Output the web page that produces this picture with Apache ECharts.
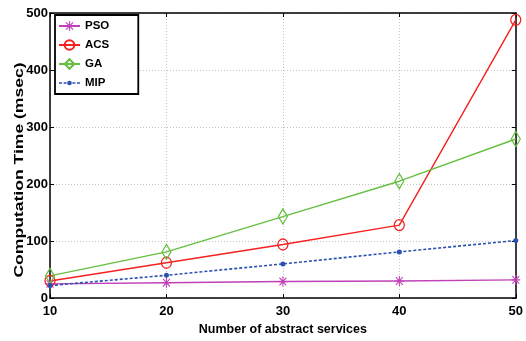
<!DOCTYPE html>
<html>
<head>
<meta charset="utf-8">
<script src="https://cdn.jsdelivr.net/npm/echarts@6/dist/echarts.min.js"></script>
<style>
  html, body { margin: 0; padding: 0; background: #fff; }
  #chart { width: 526px; height: 341px; }
</style>
</head>
<body>
<div id="chart"></div>
<script>
// Number of abstract services (x) and computation time in msec per algorithm
const services = [10, 20, 30, 40, 50];
const psoTime = [25, 27, 29, 30, 32];
const acsTime = [30, 62, 94, 128, 488];
const gaTime  = [39, 81, 143, 205, 279];
const mipTime = [22, 40, 60, 81, 101];

const FONT = '"Liberation Sans", Arial, Helvetica, sans-serif';
const pairs = ys => services.map((x, i) => [x, ys[i]]);

// eight-spoke asterisk built from four bars of the same winding
const asterisk = 'path://M4.4 0L5.6 0L5.6 10L4.4 10Z M0 4.4L10 4.4L10 5.6L0 5.6Z ' +
  'M0.8 1.6L1.6 0.8L9.2 8.4L8.4 9.2Z M8.4 0.8L9.2 1.6L1.6 9.2L0.8 8.4Z';

// legend glyph for the dashed MIP line: dashes plus a small dot,
// with two specks at the corners so the icon box is not stretched
const dashDotIcon = 'path://M0 0L0.01 0L0 0.01Z M21 12L20.99 12L21 11.99Z ' +
  'M0 5.3L3 5.3L3 6.7L0 6.7Z M4.6 5.3L7.6 5.3L7.6 6.7L4.6 6.7Z ' +
  'M13.4 5.3L16.4 5.3L16.4 6.7L13.4 6.7Z M18 5.3L21 5.3L21 6.7L18 6.7Z ' +
  'M8.2 6A2.3 2.3 0 1 1 12.8 6A2.3 2.3 0 1 1 8.2 6Z';

const C = { pso: '#c040b8', acs: '#f52020', ga: '#66bf40', mip: '#2a50b0' };

const chart = echarts.init(document.getElementById('chart'), null, { renderer: 'canvas' });

const boxAxis = {
  axisLine: { show: true, onZero: false, lineStyle: { color: '#000', width: 1.5 } },
  axisTick: { show: true, inside: true, length: 4, lineStyle: { color: '#000', width: 1 } },
  axisLabel: { show: false },
  splitLine: { show: false }
};

chart.setOption({
  animation: false,
  backgroundColor: '#fff',
  grid: { left: 50, right: 8, top: 13, bottom: 33, containLabel: false },
  xAxis: [
    {
      type: 'value', min: 10, max: 50, interval: 10, position: 'bottom',
      name: 'Number of abstract services', nameLocation: 'middle', nameGap: 19,
      nameTextStyle: { color: '#000', fontFamily: FONT, fontWeight: 'bold', fontSize: 12.5 },
      axisLine: { show: true, onZero: false, lineStyle: { color: '#000', width: 1.5 } },
      axisTick: { show: true, inside: true, length: 4, lineStyle: { color: '#000', width: 1 } },
      axisLabel: { color: '#000', fontFamily: FONT, fontWeight: 'bold', fontSize: 13, margin: 7 },
      splitLine: { show: true, lineStyle: { color: '#c4c4c4', type: [1, 2], width: 1 } }
    },
    Object.assign({ type: 'value', min: 10, max: 50, interval: 10, position: 'top' }, boxAxis)
  ],
  yAxis: [
    {
      type: 'value', min: 0, max: 500, interval: 100, position: 'left',
      axisLine: { show: true, onZero: false, lineStyle: { color: '#000', width: 1.5 } },
      axisTick: { show: true, inside: true, length: 4, lineStyle: { color: '#000', width: 1 } },
      axisLabel: { color: '#000', fontFamily: FONT, fontWeight: 'bold', fontSize: 13, margin: 2 },
      splitLine: { show: true, lineStyle: { color: '#c4c4c4', type: [1, 2], width: 1 } }
    },
    Object.assign({ type: 'value', min: 0, max: 500, interval: 100, position: 'right' }, boxAxis)
  ],
  graphic: [{
    type: 'text', x: 19, y: 170, rotation: Math.PI / 2, scaleX: 1.35,
    style: {
      text: 'Computation Time (msec)', fill: '#000',
      fontFamily: FONT, fontWeight: 'bold', fontSize: 13,
      align: 'center', verticalAlign: 'middle'
    }
  }],
  legend: {
    orient: 'vertical', left: 55, top: 15,
    padding: [5, 29, 5, 3], itemGap: 7, itemWidth: 21, itemHeight: 12,
    backgroundColor: '#fff', borderColor: '#000', borderWidth: 1.8, borderRadius: 0,
    textStyle: { color: '#000', fontFamily: FONT, fontWeight: 'bold', fontSize: 11.5 },
    data: ['PSO', 'ACS', 'GA', { name: 'MIP', icon: dashDotIcon }]
  },
  series: [
    {
      name: 'PSO', type: 'line', data: pairs(psoTime),
      symbol: asterisk, symbolSize: [9, 10],
      itemStyle: { color: C.pso, borderWidth: 0 },
      lineStyle: { color: C.pso, width: 1.4 }
    },
    {
      name: 'ACS', type: 'line', data: pairs(acsTime),
      symbol: 'circle', symbolSize: [10, 11],
      itemStyle: { color: 'transparent', borderColor: C.acs, borderWidth: 1.3 },
      lineStyle: { color: C.acs, width: 1.4 }
    },
    {
      name: 'GA', type: 'line', data: pairs(gaTime),
      symbol: 'diamond', symbolSize: [9, 15],
      itemStyle: { color: 'transparent', borderColor: C.ga, borderWidth: 1.3 },
      lineStyle: { color: C.ga, width: 1.4 }
    },
    {
      name: 'MIP', type: 'line', data: pairs(mipTime),
      symbol: 'circle', symbolSize: 5,
      itemStyle: { color: C.mip, borderWidth: 0 },
      lineStyle: { color: C.mip, width: 1.6, type: [3, 2] }
    }
  ]
});
</script>
</body>
</html>
